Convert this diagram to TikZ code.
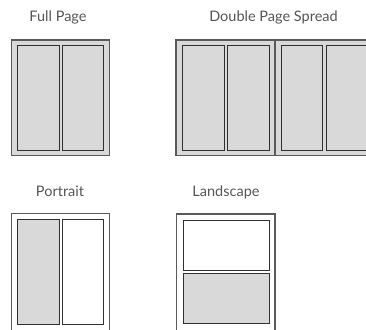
\documentclass[tikz,border=0pt]{standalone}
\usepackage{fontspec}
\setmainfont{Lato}
\definecolor{pagegray}{HTML}{D9D9D9}
\definecolor{edgegray}{HTML}{5A5A5A}
\definecolor{paneledge}{HTML}{303030}
\definecolor{labelgray}{HTML}{555555}
\tikzset{
  sheet/.style={draw=edgegray, line width=1.3pt},
  panel/.style={draw=paneledge, line width=1pt},
  shaded/.style={fill=pagegray},
  blank/.style={fill=white},
  caption/.style={font=\fontsize{14.5}{16}\selectfont, text=labelgray, anchor=base, inner sep=0pt},
}
\begin{document}
\begin{tikzpicture}[x=1pt, y=-1pt]
\useasboundingbox (0,0) rectangle (366,329);
\node[caption] (fullcap) at (58,21.7) {Full Page};
\node[caption] (spreadcap) at (273.5,21.7) {Double Page Spread};
\node[caption] (portcap) at (60,196.5) {Portrait};
\node[caption] (landcap) at (226,196.5) {Landscape};
\draw[sheet, shaded] (11.7,40) rectangle (109.3,155.7);
\draw[panel, shaded] (17.3,45.3) rectangle (59,150);
\draw[panel, shaded] (62.3,45.3) rectangle (103.7,150);
\draw[sheet, shaded] (176,40) rectangle (380,155.7);
\draw[sheet] (275,40) -- (275,155.7);
\draw[panel, shaded] (182.7,45.3) rectangle (224,150);
\draw[panel, shaded] (227.3,45.3) rectangle (269,150);
\draw[panel, shaded] (281,45.3) rectangle (322.7,150);
\draw[panel, shaded] (326.7,45.3) rectangle (368,150);
\draw[sheet, blank] (11.7,213.3) rectangle (109.3,340);
\draw[panel, shaded] (17.3,219) rectangle (59,324);
\draw[panel, blank] (62.3,219) rectangle (103.7,324);
\draw[sheet, blank] (176.7,214) rectangle (275,340);
\draw[panel, blank] (183.3,220.3) rectangle (269,270);
\draw[panel, shaded] (183.3,273.3) rectangle (269,323.3);
\end{tikzpicture}
\end{document}
